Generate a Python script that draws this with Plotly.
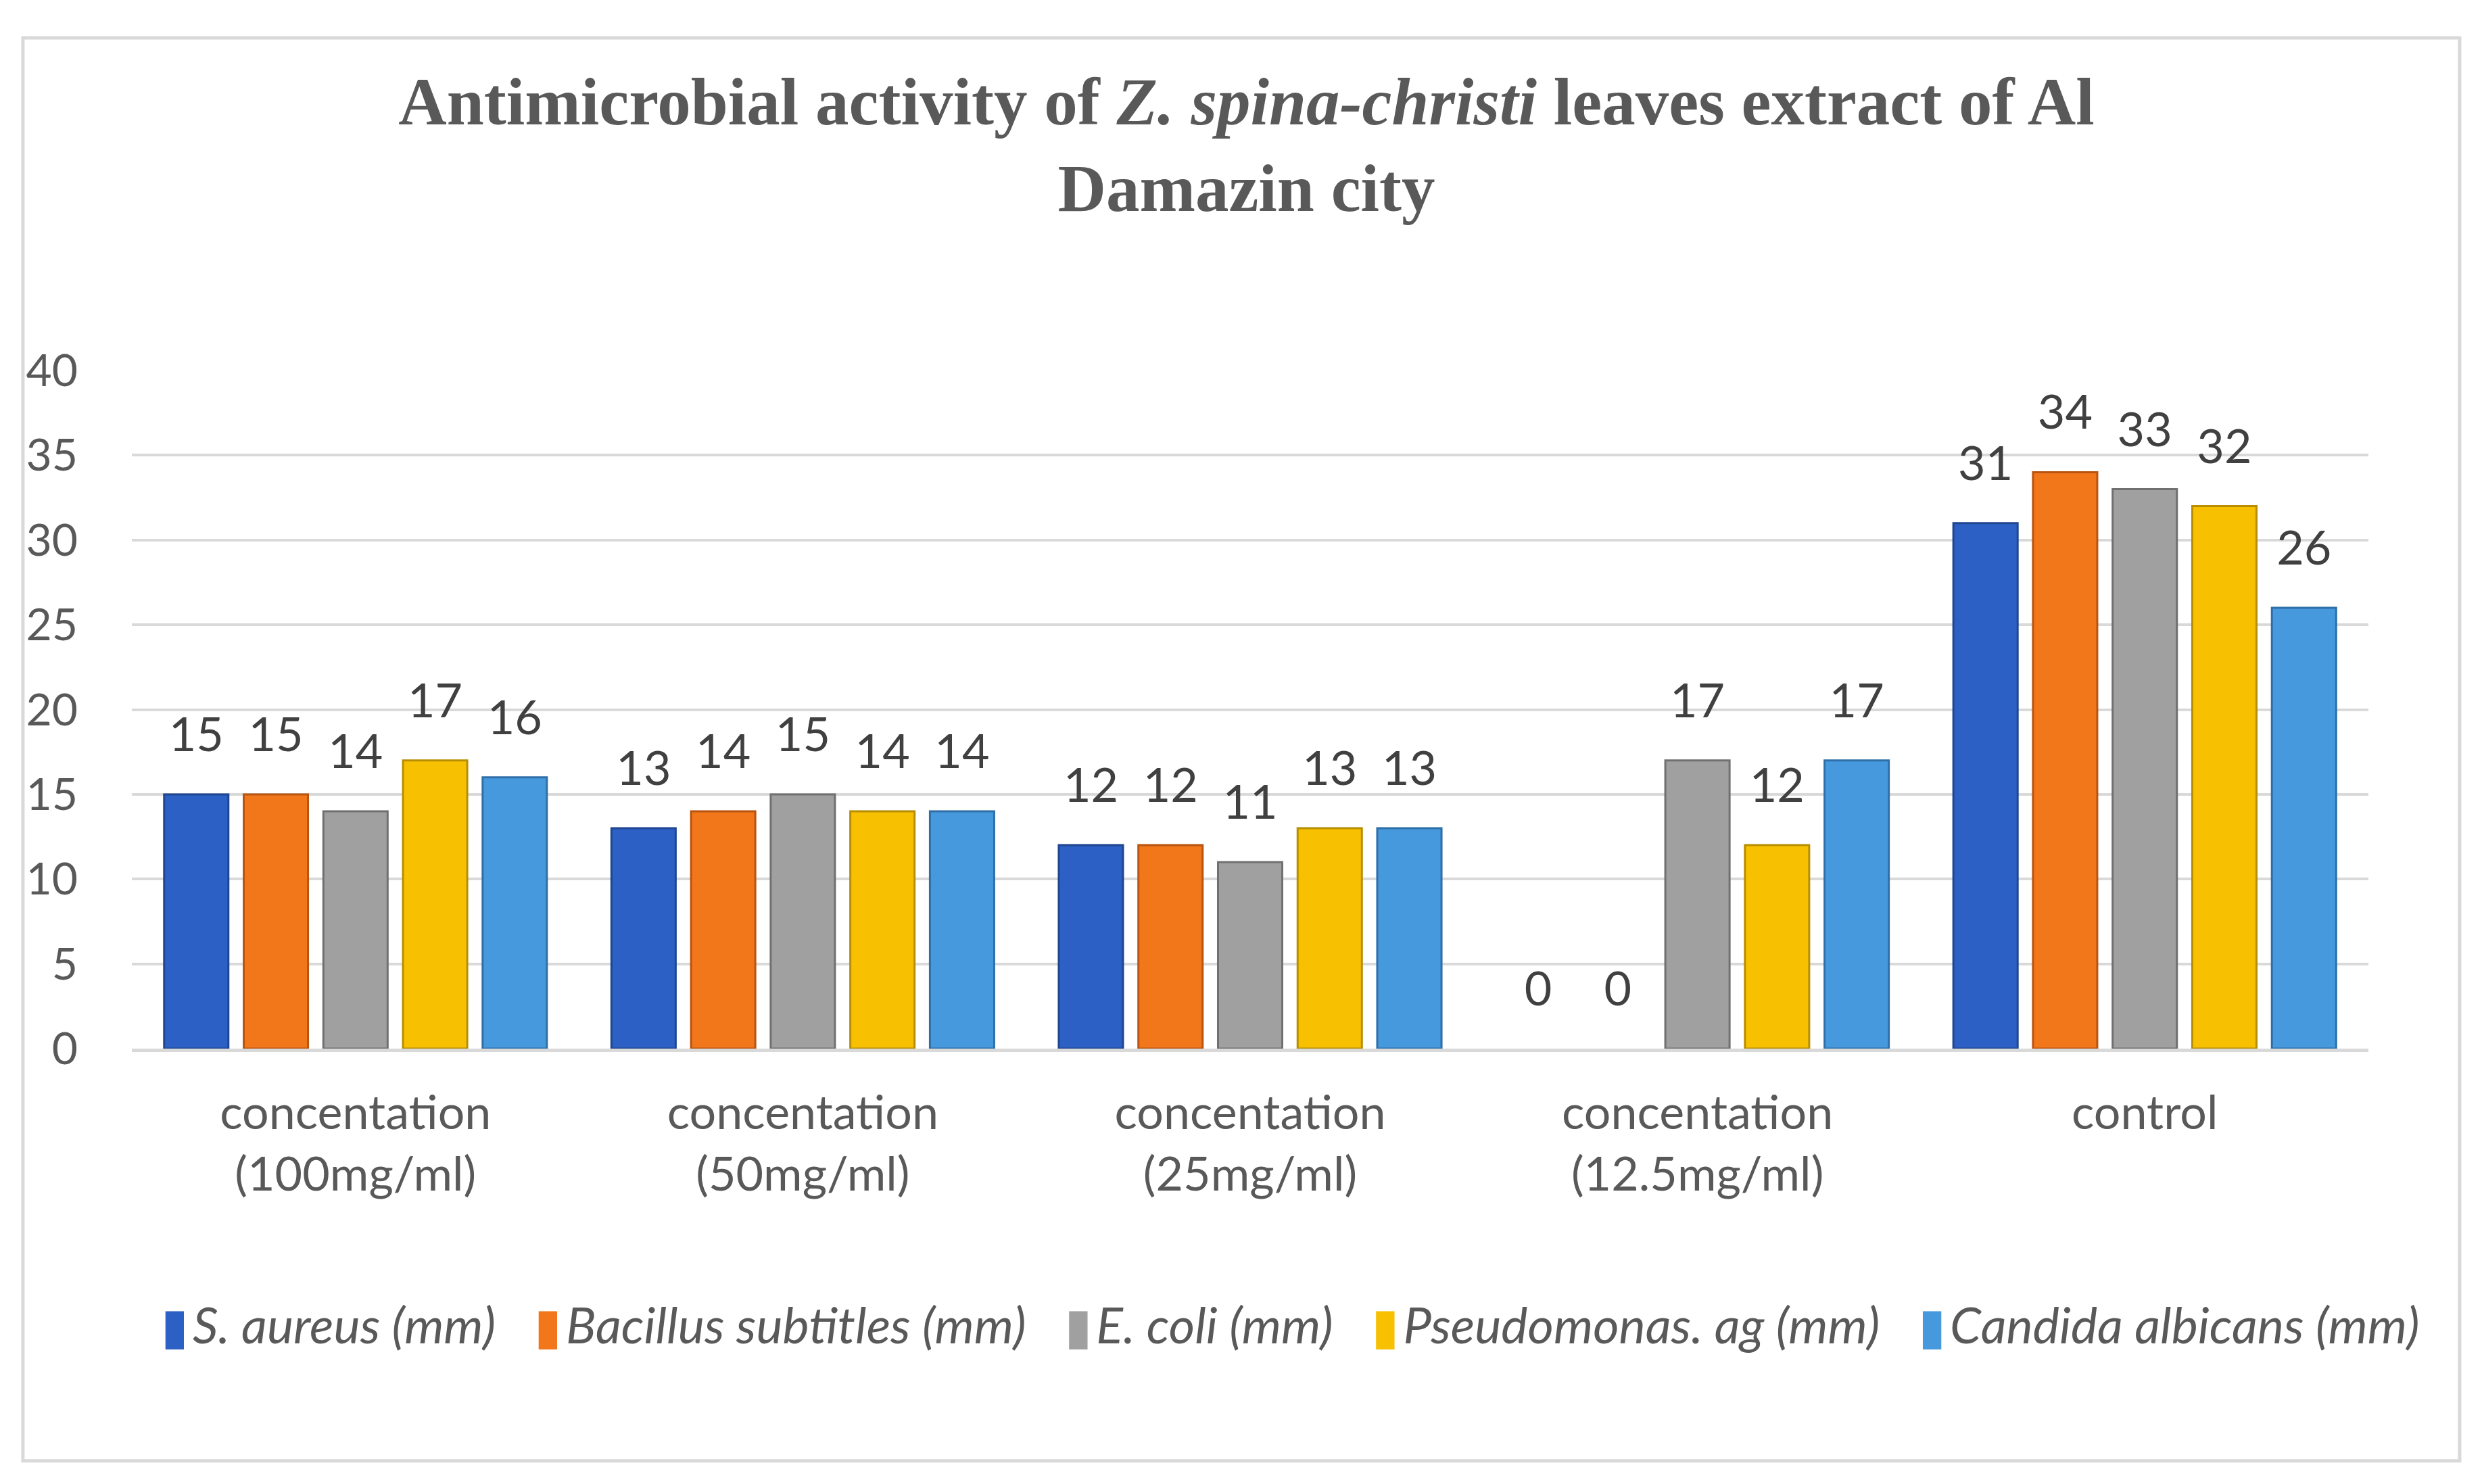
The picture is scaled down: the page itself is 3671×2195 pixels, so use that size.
import plotly.graph_objects as go

# categories (x axis)
categories = ["concentation<br>(100mg/ml)", "concentation<br>(50mg/ml)",
              "concentation<br>(25mg/ml)", "concentation<br>(12.5mg/ml)", "control"]

# one list per organism
s_aureus = [15, 13, 12, 0, 31]
bacillus = [15, 14, 12, 0, 34]
e_coli = [14, 15, 11, 17, 33]
pseudomonas = [17, 14, 13, 12, 32]
candida = [16, 14, 13, 17, 26]

series_names = ["S. aureus (mm)", "Bacillus subtitles (mm)", "E. coli (mm)",
                "Pseudomonas. ag (mm)", "Candida albicans (mm)"]
series_vals = [s_aureus, bacillus, e_coli, pseudomonas, candida]
colors = ["#2D60C4", "#F2761A", "#A0A0A0", "#F7C000", "#4799DE"]
edges = ["#1F4690", "#B85510", "#707070", "#B88E00", "#2F6FA8"]

y_ticks = [0, 5, 10, 15, 20, 25, 30, 35, 40]

fig = go.Figure()
for name, vals, c, e in zip(series_names, series_vals, colors, edges):
    fig.add_trace(go.Bar(
        x=categories, y=vals, name=name,
        marker=dict(color=c, line=dict(color=e, width=[3 if v else 0 for v in vals])),
        text=vals,
        # small blank second line lifts the label off the bar top
        texttemplate="<span style='font-size:70px'>%{y}</span><br> ",
        textposition="outside", constraintext="none",
        textfont=dict(family="Lato", size=40, color="#404040"),
        cliponaxis=False, showlegend=False,
    ))

# legend drawn as one line of text so the swatches scale with the page
legend_txt = "   ".join(
    f"<span style='color:{c};font-family:DejaVu Sans'>▮</span><span style='font-size:24px'> </span><i>{n}</i>"
    for n, c in zip(series_names, colors)
)

fig.update_layout(
    width=3671, height=2195,
    margin=dict(l=187, r=176, t=540, b=652),
    paper_bgcolor="white", plot_bgcolor="white",
    barmode="group", bargap=0.11, bargroupgap=0.193,
    title=dict(
        text="<b>Antimicrobial activity of <i>Z. spina-christi</i> leaves extract of Al<br>Damazin city</b>",
        font=dict(family="Liberation Serif", size=99, color="#595959"),
        x=0.5, xanchor="center", y=0.92, yanchor="top", yref="container",
    ),
    font=dict(family="Lato", size=66, color="#595959"),
    annotations=[dict(
        text=legend_txt, xref="paper", yref="paper", x=0.518, y=-0.407,
        xanchor="center", yanchor="middle", showarrow=False,
        font=dict(family="Lato", size=74, color="#595959"),
    )],
    shapes=[dict(
        type="rect", xref="paper", yref="paper",
        x0=-0.0487, x1=1.0408, y0=-0.608, y1=1.4905,
        line=dict(color="#D9D9D9", width=5), fillcolor="rgba(0,0,0,0)",
        layer="below",
    )],
)

fig.update_yaxes(
    range=[0, 40], tickvals=y_ticks, showgrid=True, gridcolor="#D9D9D9",
    gridwidth=4, zeroline=False, showline=False, ticklabelstandoff=79,
    tickfont=dict(family="Lato", size=66, color="#595959"),
)
fig.update_xaxes(
    showline=True, linecolor="#D9D9D9", linewidth=5, showgrid=False,
    ticks="", ticklabelstandoff=30,
    tickfont=dict(family="Lato", size=70, color="#595959"),
)

fig.write_html("out.html")
